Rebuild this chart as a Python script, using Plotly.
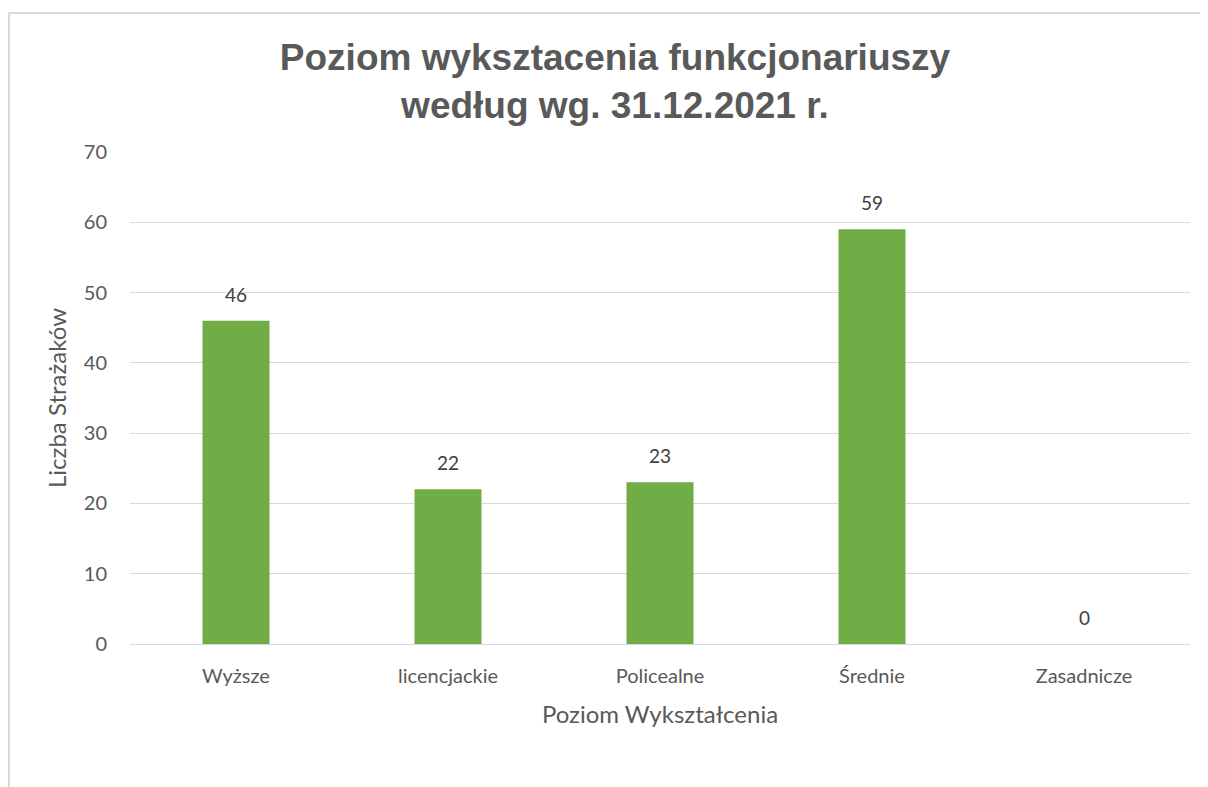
import plotly.graph_objects as go

categories = ["Wyższe", "licencjackie", "Policealne", "Średnie", "Zasadnicze"]
values = [46, 22, 23, 59, 0]
y_ticks = [0, 10, 20, 30, 40, 50, 60, 70]

OFF = 8  # page body margin
W, H = 1208, 787
L, T = 130 - OFF, 152 - OFF
R = W - (1190 - OFF)
B = H - (644 - OFF)
pw = W - L - R
ph = H - T - B

FONT = "Lato, Open Sans, sans-serif"

fig = go.Figure()
fig.add_trace(go.Bar(
    x=categories, y=values,
    marker=dict(color="#70ad47", line=dict(width=0)),
))

for c, v in zip(categories, values):
    fig.add_annotation(
        x=c, y=v, text=str(v), showarrow=False,
        yanchor="bottom", yshift=13,
        font=dict(family=FONT, size=19, color="#404040"),
    )

fig.update_layout(
    width=W, height=H,
    margin=dict(l=L, r=R, t=T, b=B),
    paper_bgcolor="white", plot_bgcolor="white",
    bargap=0.684,
    showlegend=False,
    title=dict(
        text="Poziom wyksztacenia funkcjonariuszy<br>według wg. 31.12.2021 r.",
        x=(615 - OFF) / W, xanchor="center",
        y=1 - 62 / H, yanchor="top",
        font=dict(family="Liberation Sans, Arial, sans-serif", size=37, color="#595959", weight="bold"),
    ),
    xaxis=dict(
        showgrid=False, showline=False, zeroline=False,
        tickfont=dict(family=FONT, size=20, color="#595959"),
        ticks="", ticklabelstandoff=18,
        title=dict(text="Poziom Wykształcenia", standoff=20,
                   font=dict(family=FONT, size=24, color="#595959")),
    ),
    yaxis=dict(
        range=[0, 70], tickvals=y_ticks,
        showgrid=True, gridcolor="#d9d9d9", gridwidth=1,
        zeroline=True, zerolinecolor="#d9d9d9", zerolinewidth=1,
        showline=False, ticks="", ticklabelstandoff=22,
        tickfont=dict(family=FONT, size=20, color="#595959"),
        title=dict(text="Liczba Strażaków", standoff=10,
                   font=dict(family=FONT, size=24, color="#595959")),
    ),
    shapes=[dict(
        type="rect", xref="paper", yref="paper",
        x0=(9 - OFF - L) / pw, x1=(W + 40 - L) / pw,
        y0=-(H + 40 - T - ph) / ph, y1=1 + (T - (13 - OFF)) / ph,
        line=dict(color="#d9d9d9", width=2), fillcolor="rgba(0,0,0,0)", layer="below",
    )],
)

fig.write_html("out.html")
